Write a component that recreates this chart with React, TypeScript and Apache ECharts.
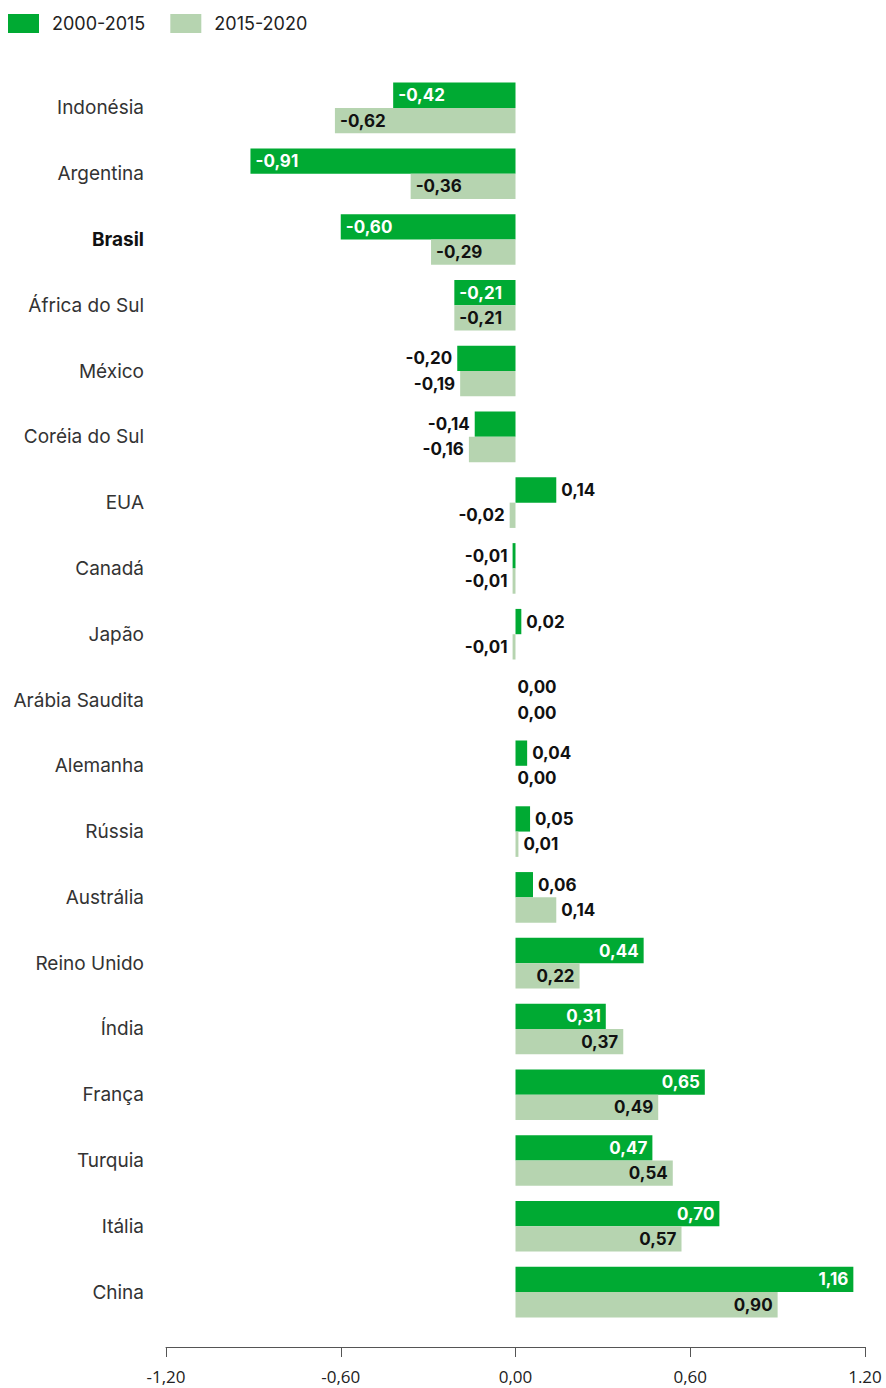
import React, { useEffect, useRef } from "react";
import * as echarts from "echarts";

const categories = [
  "Indonésia", "Argentina", "Brasil", "África do Sul", "México", "Coréia do Sul", "EUA",
  "Canadá", "Japão", "Arábia Saudita", "Alemanha", "Rússia", "Austrália", "Reino Unido",
  "Índia", "França", "Turquia", "Itália", "China",
];
const series2000_2015 = [
  -0.42, -0.91, -0.6, -0.21, -0.2, -0.14, 0.14, -0.01, 0.02, 0.0, 0.04, 0.05, 0.06, 0.44,
  0.31, 0.65, 0.47, 0.7, 1.16,
];
const series2015_2020 = [
  -0.62, -0.36, -0.29, -0.21, -0.19, -0.16, -0.02, -0.01, -0.01, 0.0, 0.0, 0.01, 0.14, 0.22,
  0.37, 0.49, 0.54, 0.57, 0.9,
];
const seriesNames = ["2000-2015", "2015-2020"];
const xTickLabels = ["-1,20", "-0,60", "0,00", "0,60", "1.20"];

const DARK = "#00aa33";
const LIGHT = "#b6d4b0";
const FONT = "Inter, 'Noto Sans', sans-serif";

function buildData(vals: number[], insideColor: string) {
  return vals.map((v) => {
    const inside = Math.abs(v) >= 0.21;
    const pos = inside ? (v < 0 ? "insideLeft" : "insideRight") : v < 0 ? "left" : "right";
    return {
      value: v,
      label: {
        show: true,
        position: pos,
        distance: v === 0 ? 2 : 5,
        color: inside ? insideColor : "#111",
      },
    };
  });
}

export default function App() {
  const ref = useRef<HTMLDivElement>(null);
  useEffect(() => {
    if (!ref.current) return;
    const chart = echarts.init(ref.current, null, { renderer: "svg" });
    const labelCommon = {
      fontFamily: FONT,
      fontSize: 17,
      fontWeight: "bold",
      formatter: (p: any) => p.value.toFixed(2).replace(".", ","),
    };
    chart.setOption({
      animation: false,
      backgroundColor: "#ffffff",
      legend: {
        left: 8,
        top: 14,
        padding: 0,
        icon: "rect",
        itemWidth: 31,
        itemHeight: 19,
        itemGap: 25,
        data: seriesNames,
        textStyle: { fontFamily: FONT, fontSize: 18, color: "#222", padding: [0, 0, 0, 8] },
      },
      grid: { left: 166, right: 21, top: 75, bottom: 63, containLabel: false },
      xAxis: {
        type: "value",
        min: -1.2,
        max: 1.2,
        interval: 0.6,
        offset: 22,
        splitLine: { show: false },
        axisLine: { show: true, lineStyle: { color: "#555", width: 1 } },
        axisTick: { show: true, length: 10, lineStyle: { color: "#555" } },
        axisLabel: {
          margin: 21,
          fontFamily: "'Open Sans', sans-serif",
          fontSize: 17,
          color: "#222",
          formatter: (_v: number, i: number) => xTickLabels[i] ?? "",
        },
      },
      yAxis: {
        type: "category",
        inverse: true,
        data: categories,
        axisLine: { show: false },
        axisTick: { show: false },
        axisLabel: {
          margin: 22,
          fontFamily: FONT,
          fontSize: 19,
          color: "#333",
          formatter: (v: string) => (v === "Brasil" ? "{b|" + v + "}" : v),
          rich: { b: { fontFamily: FONT, fontSize: 19, fontWeight: "bold", color: "#111" } },
        },
      },
      series: [
        {
          name: seriesNames[0],
          type: "bar",
          barWidth: 25.3,
          barGap: "0%",
          itemStyle: { color: DARK },
          label: { ...labelCommon },
          data: buildData(series2000_2015, "#ffffff"),
        },
        {
          name: seriesNames[1],
          type: "bar",
          barWidth: 25.3,
          barGap: "0%",
          itemStyle: { color: LIGHT },
          label: { ...labelCommon },
          data: buildData(series2015_2020, "#111"),
        },
      ],
    });
    return () => chart.dispose();
  }, []);
  return (
    <div
      ref={ref}
      style={{ position: "absolute", left: 0, top: 0, width: 886, height: 1388 }}
    />
  );
}
